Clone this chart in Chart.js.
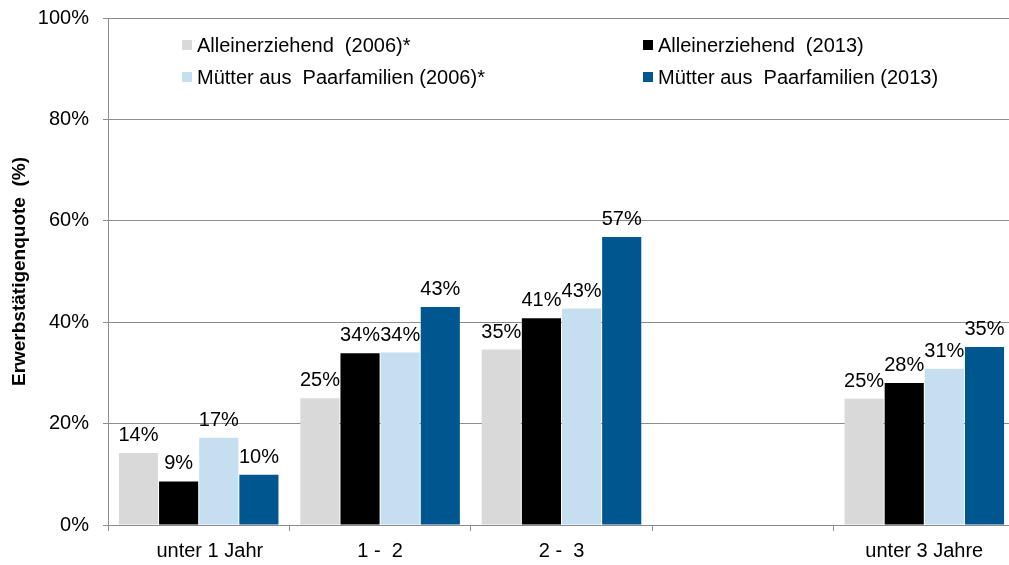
<!DOCTYPE html>
<html>
<head>
<meta charset="utf-8">
<script src="https://cdn.jsdelivr.net/npm/chart.js@4"></script>
<style>
    body { margin: 0; overflow: hidden; background: #fff; }
    #wrap { width: 1016px; height: 565px; }
</style>
</head>
<body>
<div id="wrap"><canvas id="chart"></canvas></div>
<script>
// values (percent)
const categories = ["    unter 1 Jahr", "1 -  2", "2 -  3", "", "unter 3 Jahre"];
const seriesNames = ["Alleinerziehend  (2006)*", "Alleinerziehend  (2013)", "Mütter aus  Paarfamilien (2006)*", "Mütter aus  Paarfamilien (2013)"];
const allein2006 = [14.2, 25.0, 34.6, null, 24.9];
const allein2013 = [8.6, 33.9, 40.8, null, 28.0];
const paar2006 = [17.2, 34.0, 42.7, null, 30.8];
const paar2013 = [9.9, 43.0, 56.8, null, 35.1];
const yTicks = [0, 20, 40, 60, 80, 100];

const colors = ["#d9d9d9", "#000000", "#c6dff0", "#00578f"];
const fontFamily = "'Liberation Sans', Arial, sans-serif";
const gridColor = "#8c8c8c";

// percentage labels above each bar
const barLabels = {
    id: "barLabels",
    afterDatasetsDraw(chart) {
        const ctx = chart.ctx;
        ctx.save();
        ctx.font = "20px " + fontFamily;
        ctx.fillStyle = "#000";
        ctx.textAlign = "center";
        ctx.textBaseline = "alphabetic";
        chart.data.datasets.forEach(function (ds, i) {
            const meta = chart.getDatasetMeta(i);
            meta.data.forEach(function (bar, j) {
                const v = ds.data[j];
                if (v === null) return;
                ctx.fillText(Math.round(v) + "%", bar.x, bar.y - 12);
            });
        });
        ctx.restore();
    }
};

// two-column legend inside the plot, like the original
const gridLegend = {
    id: "gridLegend",
    afterDraw(chart) {
        const ctx = chart.ctx;
        const cols = [182, 643];
        const rows = [45, 77];
        const order = [[0, 0, 0], [1, 1, 0], [2, 0, 1], [3, 1, 1]];
        ctx.save();
        ctx.font = "20px " + fontFamily;
        ctx.textBaseline = "middle";
        ctx.textAlign = "left";
        order.forEach(function (o) {
            const x = cols[o[1]];
            const y = rows[o[2]];
            ctx.fillStyle = colors[o[0]];
            ctx.fillRect(x, y - 5, 10, 10);
            ctx.fillStyle = "#000";
            ctx.fillText(seriesNames[o[0]], x + 15, y + 1);
        });
        ctx.restore();
    }
};

const datasets = [allein2006, allein2013, paar2006, paar2013].map(function (d, i) {
    return {
        label: seriesNames[i],
        data: d,
        backgroundColor: colors[i],
        borderWidth: 0,
        barPercentage: 0.975,
        categoryPercentage: 0.885
    };
});

new Chart(document.getElementById("chart"), {
    type: "bar",
    data: { labels: categories, datasets: datasets },
    plugins: [barLabels, gridLegend],
    options: {
        responsive: true,
        maintainAspectRatio: false,
        animation: false,
        layout: { padding: { top: 18, right: 1, bottom: 0, left: 0 } },
        plugins: {
            legend: { display: false },
            tooltip: { enabled: false }
        },
        scales: {
            x: {
                grid: { drawOnChartArea: false, color: gridColor, tickLength: 6, offset: true },
                border: { color: gridColor },
                ticks: { color: "#000", font: { family: fontFamily, size: 20 }, padding: 8, maxRotation: 0 },
                afterFit(scale) {
                    scale.height = 40;
                    scale.paddingLeft = 0;
                    scale.paddingRight = 0;
                }
            },
            y: {
                min: 0,
                max: 100,
                afterBuildTicks(scale) { scale.ticks = yTicks.map(v => ({ value: v })); },
                grid: { color: gridColor, tickLength: 5 },
                border: { color: gridColor },
                ticks: {
                    color: "#000",
                    font: { family: fontFamily, size: 20 },
                    padding: 14,
                    callback: v => v + "%"
                },
                title: {
                    display: true,
                    text: "Erwerbstätigenquote  (%)",
                    color: "#000",
                    font: { family: fontFamily, size: 19, weight: "bold" },
                    padding: { top: 8, bottom: 0 }
                },
                afterFit(scale) {
                    scale.width = 108;
                    scale.paddingTop = 0;
                    scale.paddingBottom = 0;
                }
            }
        }
    }
});
</script>
</body>
</html>
